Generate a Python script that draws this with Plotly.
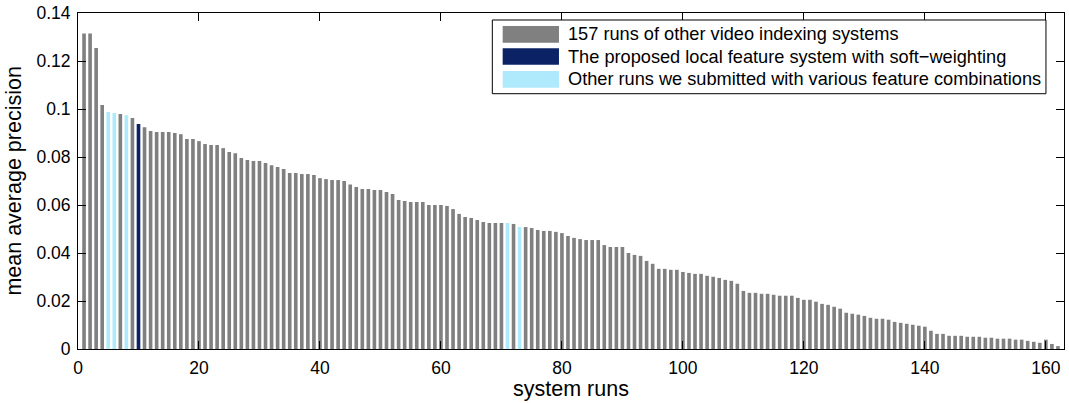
import plotly.graph_objects as go

# ---- data ----
map_values = [
    0.1315, 0.1315, 0.1254, 0.1017, 0.0987, 0.0983, 0.0979, 0.0974, 0.0963, 0.0937,
    0.0924, 0.0908, 0.0904, 0.0904, 0.0904, 0.0900, 0.0895, 0.0875, 0.0875, 0.0866,
    0.0854, 0.0850, 0.0850, 0.0837, 0.0821, 0.0816, 0.0796, 0.0787, 0.0783, 0.0783,
    0.0775, 0.0766, 0.0758, 0.0750, 0.0733, 0.0733, 0.0729, 0.0729, 0.0725, 0.0712,
    0.0708, 0.0704, 0.0704, 0.0700, 0.0685, 0.0675, 0.0667, 0.0667, 0.0662, 0.0662,
    0.0654, 0.0646, 0.0621, 0.0617, 0.0612, 0.0612, 0.0612, 0.0600, 0.0600, 0.0600,
    0.0596, 0.0583, 0.0563, 0.0550, 0.0546, 0.0537, 0.0529, 0.0525, 0.0525, 0.0525,
    0.0525, 0.0521, 0.0508, 0.0508, 0.0504, 0.0496, 0.0492, 0.0492, 0.0488, 0.0483,
    0.0471, 0.0463, 0.0458, 0.0454, 0.0454, 0.0454, 0.0433, 0.0425, 0.0425, 0.0425,
    0.0400, 0.0392, 0.0388, 0.0367, 0.0355, 0.0334, 0.0334, 0.0330, 0.0330, 0.0321,
    0.0317, 0.0313, 0.0313, 0.0305, 0.0301, 0.0296, 0.0288, 0.0284, 0.0272, 0.0242,
    0.0234, 0.0234, 0.0230, 0.0230, 0.0226, 0.0222, 0.0222, 0.0222, 0.0213, 0.0205,
    0.0205, 0.0197, 0.0188, 0.0184, 0.0176, 0.0168, 0.0151, 0.0147, 0.0143, 0.0138,
    0.0130, 0.0126, 0.0126, 0.0122, 0.0113, 0.0109, 0.0105, 0.0101, 0.0097, 0.0093,
    0.0076, 0.0063, 0.0063, 0.0055, 0.0055, 0.0055, 0.0051, 0.0051, 0.0051, 0.0047,
    0.0047, 0.0043, 0.0043, 0.0043, 0.0039, 0.0039, 0.0034, 0.0030, 0.0026, 0.0039,
    0.0021, 0.0012,
]
run_ids = list(range(1, len(map_values) + 1))
proposed_runs = [10]
our_other_runs = [5, 6, 8, 71, 73]

series_names = [
    "157 runs of other video indexing systems",
    "The proposed local feature system with soft\u2212weighting",
    "Other runs we submitted with various feature combinations",
]
x_ticks = [0, 20, 40, 60, 80, 100, 120, 140, 160]
y_ticks = [0, 0.02, 0.04, 0.06, 0.08, 0.10, 0.12, 0.14]
y_tick_text = ["0", "0.02", "0.04", "0.06", "0.08", "0.1", "0.12", "0.14"]

GRAY = "#808080"
NAVY = "#0b2264"
LIGHT = "#aeeafc"
colors = [GRAY, NAVY, LIGHT]

other_x = [r for r in run_ids if r not in proposed_runs and r not in our_other_runs]
groups = [other_x, proposed_runs, our_other_runs]

FONT = "Liberation Sans, Arial, Helvetica, sans-serif"

fig = go.Figure()
for name, xs, col in zip(series_names, groups, colors):
    fig.add_trace(go.Bar(
        x=xs,
        y=[map_values[r - 1] for r in xs],
        width=0.6,
        marker=dict(color=col, line=dict(width=0)),
        name=name,
        showlegend=False,
    ))

axis_common = dict(
    showline=True, linecolor="black", linewidth=1, mirror="ticks",
    ticks="inside", ticklen=8, tickwidth=1, tickcolor="black",
    showgrid=False, zeroline=False, automargin=False,
    tickfont=dict(family=FONT, size=17.5, color="black"),
)

fig.update_layout(
    width=1069, height=403,
    margin=dict(l=78, r=5, t=13, b=54, autoexpand=False),
    paper_bgcolor="white", plot_bgcolor="white",
    barmode="overlay",
    xaxis=dict(
        range=[0, 163], tickvals=x_ticks,
        ticklabelstandoff=3,
        **axis_common,
    ),
    yaxis=dict(
        range=[0, 0.14], tickvals=y_ticks, ticktext=y_tick_text,
        ticklabelstandoff=3,
        **axis_common,
    ),
)

# axis titles as annotations placed in the margins
TITLE_FONT = dict(family=FONT, size=21.5, color="black")
fig.add_annotation(xref="paper", yref="paper", x=0.5, y=-0.077,
                   text="system runs", showarrow=False,
                   xanchor="center", yanchor="top", font=TITLE_FONT)
fig.add_annotation(xref="paper", yref="paper", x=-0.0795, y=0.5,
                   text="mean average precision", showarrow=False, textangle=-90,
                   xanchor="left", yanchor="middle", font=TITLE_FONT)

# ---- legend box drawn in paper coordinates ----
box = dict(x0=0.4202, x1=0.9817, y0=0.7598, y1=0.9792)
fig.add_shape(type="rect", xref="paper", yref="paper", layer="above",
              line=dict(color="black", width=1), fillcolor="white", **box)
rows = [(0.9613, 0.9116, 0.9366), (0.8949, 0.8461, 0.8705), (0.8274, 0.7777, 0.8027)]
for (top, bot, mid), col, name in zip(rows, colors, series_names):
    fig.add_shape(type="rect", xref="paper", yref="paper", layer="above",
                  x0=0.4307, x1=0.4878, y0=bot, y1=top,
                  fillcolor=col, line=dict(width=0))
    fig.add_annotation(xref="paper", yref="paper", x=0.4949, y=mid,
                       text=name, showarrow=False, xanchor="left", yanchor="middle",
                       font=dict(family=FONT, size=18.2, color="black"))

fig.write_html(
    "out.html",
    config={"displayModeBar": False},
    post_script="document.body.style.margin='0';document.body.style.padding='0';"
                "document.documentElement.style.overflow='hidden';",
)
